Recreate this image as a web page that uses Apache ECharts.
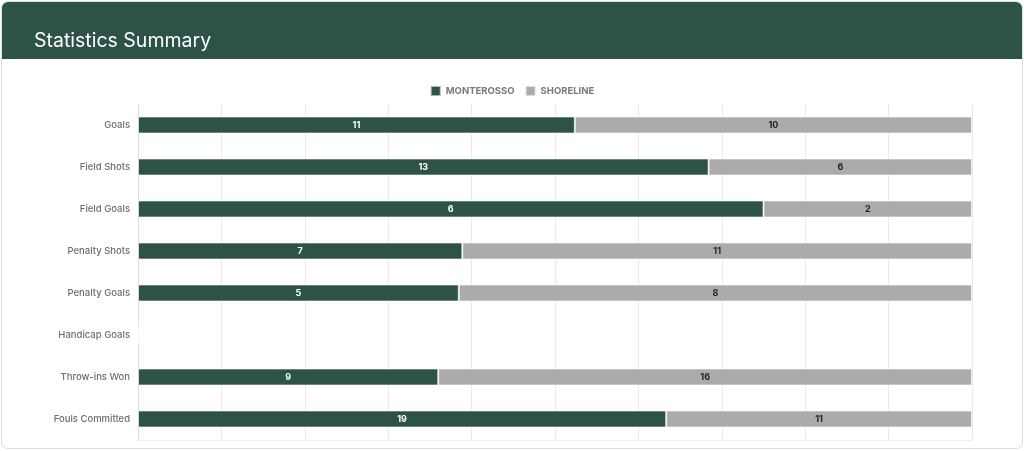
<!DOCTYPE html>
<html>
<head>
<meta charset="utf-8">
<script src="https://cdn.jsdelivr.net/npm/echarts@6/dist/echarts.min.js"></script>
<style>
  html, body { margin: 0; padding: 0; background: #ffffff; }
  #card { position: absolute; left: 1px; top: 1px; width: 1020px; height: 446px;
          border: 1px solid #dddddd; border-radius: 7px; overflow: hidden; background: #fff; }
  #chart { width: 1020px; height: 446px; }
</style>
</head>
<body>
<div id="card"><div id="chart"></div></div>
<script>
const categories = ['Goals', 'Field Shots', 'Field Goals', 'Penalty Shots', 'Penalty Goals', 'Handicap Goals', 'Throw-ins Won', 'Fouls Committed'];
const monterosso = [11, 13, 6, 7, 5, 0, 9, 19];
const shoreline = [10, 6, 2, 11, 8, 0, 16, 11];
const seriesNames = ['MONTEROSSO', 'SHORELINE'];

const totals = categories.map((c, i) => monterosso[i] + shoreline[i]);
const pct = (arr) => arr.map((v, i) => ({ value: totals[i] ? v / totals[i] * 100 : 0, raw: v }));

const GREEN = '#2d5247';
const GRAY = '#adaba9';
const FONT = 'Inter, "Noto Sans", sans-serif';

const chart = echarts.init(document.getElementById('chart'));
chart.setOption({
  animation: false,
  textStyle: { fontFamily: FONT },
  graphic: [
    { type: 'rect', left: 0, top: 0, shape: { width: 1020, height: 57 }, style: { fill: GREEN }, z: -1 }
  ],
  title: {
    text: 'Statistics Summary',
    left: 32, top: 29, padding: 0,
    textStyle: { color: '#ffffff', fontSize: 19.5, fontWeight: 'normal', fontFamily: FONT }
  },
  legend: {
    data: seriesNames,
    top: 78, left: 'center',
    itemWidth: 10, itemHeight: 10, itemGap: 10,
    icon: 'rect',
    textStyle: { color: '#7a7a7a', fontSize: 9.5, fontWeight: 'bold', fontFamily: FONT }
  },
  grid: { left: 136, right: 50, top: 102, bottom: 8, containLabel: false },
  xAxis: {
    type: 'value', min: 0, max: 100, interval: 10,
    axisLabel: { show: false },
    axisTick: { show: false },
    axisLine: { show: true, lineStyle: { color: '#eeeeee' } },
    splitLine: { show: true, lineStyle: { color: '#e9e9e9' } }
  },
  yAxis: {
    type: 'category', data: categories, inverse: true,
    axisTick: { show: false },
    axisLine: { show: true, lineStyle: { color: '#dddddd' } },
    axisLabel: { color: '#6e6e6e', fontSize: 9.5, fontWeight: 500, margin: 8, fontFamily: FONT }
  },
  series: [
    {
      name: seriesNames[0], type: 'bar', stack: 'total', barWidth: 17,
      data: pct(monterosso),
      itemStyle: { color: GREEN, borderColor: 'rgba(255,255,255,0.6)', borderWidth: 1 },
      label: { show: true, position: 'inside', color: '#ffffff', fontSize: 9, fontWeight: 'bold',
               formatter: p => p.data.raw ? p.data.raw : '' }
    },
    {
      name: seriesNames[1], type: 'bar', stack: 'total', barWidth: 17,
      data: pct(shoreline),
      itemStyle: { color: GRAY, borderColor: 'rgba(255,255,255,0.6)', borderWidth: 1 },
      label: { show: true, position: 'inside', color: '#222222', fontSize: 9, fontWeight: 'bold',
               formatter: p => p.data.raw ? p.data.raw : '' }
    }
  ]
});
</script>
</body>
</html>
